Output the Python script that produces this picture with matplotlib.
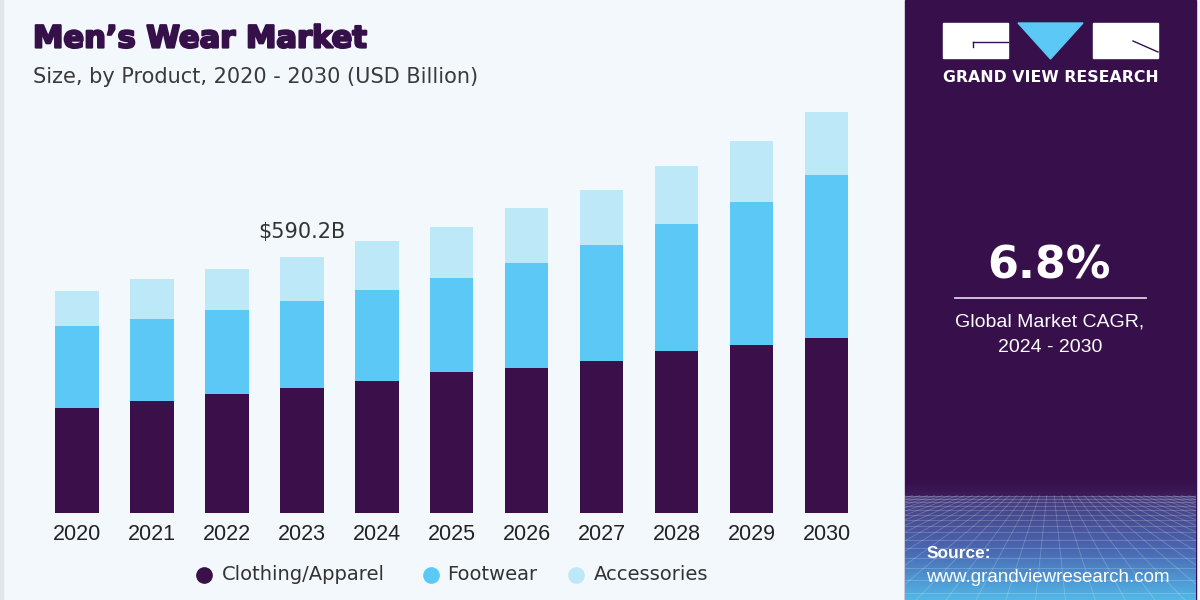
import numpy as np
import matplotlib
matplotlib.use("Agg")
import matplotlib.pyplot as plt
import matplotlib.patheffects as pe
from matplotlib.patches import Rectangle, Polygon

# data (USD Billion)
years = ["2020", "2021", "2022", "2023", "2024", "2025", "2026", "2027", "2028", "2029", "2030"]
clothing = [241.7, 257.9, 273.4, 288.6, 303.4, 324.2, 334.9, 351.1, 373.5, 386.7, 402.9]
footwear = [190.3, 190.3, 195.7, 201.2, 211.2, 219.2, 242.1, 268.3, 293.7, 331.4, 377.0]
accessories = [80.9, 91.1, 94.8, 100.4, 113.3, 117.5, 127.9, 126.5, 134.8, 141.1, 147.1]
segments = ["Clothing/Apparel", "Footwear", "Accessories"]
colors = ["#3a0f4a", "#5bc8f5", "#bde8f8"]
callout_idx = 3
callout_text = "$590.2B"

W, H = 1200, 600
BG = "#f3f8fc"
PANEL = "#370f4b"


def fx(x):
    return x / W


def fy(y):
    return 1 - y / H


fig = plt.figure(figsize=(12, 6), dpi=100)
fig.patch.set_facecolor(BG)

# thin light border on the left
fig.add_artist(Rectangle((0, 0), fx(3), 1, transform=fig.transFigure, color="#e2e6ea", zorder=0))

# right panel
fig.add_artist(Rectangle((fx(905), 0), fx(291), 1, transform=fig.transFigure,
                         color=PANEL, zorder=0))
# gradient at bottom of panel
gax = fig.add_axes([fx(905), 0, fx(291), (600 - 480) / H])
c0 = np.array(matplotlib.colors.to_rgb(PANEL))
c05 = np.array(matplotlib.colors.to_rgb("#463a7c"))
c1 = np.array(matplotlib.colors.to_rgb("#4a6ab4"))
c2 = np.array(matplotlib.colors.to_rgb("#52b8e8"))
n = 240
img = np.zeros((n, 1, 3))
for i in range(n):
    t = i / (n - 1)
    if t < 0.13:
        s = t / 0.13
        img[i, 0] = c0 * (1 - 0.3 * s) + c05 * 0.3 * s
    elif t < 0.6:
        s = (t - 0.13) / 0.47
        img[i, 0] = c05 * (1 - s) + c1 * s
    else:
        s = (t - 0.6) / 0.4
        img[i, 0] = c1 * (1 - s) + c2 * s
gax.imshow(img, aspect="auto", extent=[0, 1, 1, 0])
# faint perspective grid
for k in np.linspace(-1.5, 2.5, 40):
    gax.plot([0.5 + (k - 0.5) * 0.25, k], [0.13, 1.0], color="white", lw=0.6, alpha=0.22)
yy = 0.13
step = 0.025
while yy < 1.0:
    gax.plot([0, 1], [yy, yy], color="white", lw=0.6, alpha=0.22)
    yy += step
    step *= 1.12
gax.set_xlim(0, 1)
gax.set_ylim(1, 0)
gax.axis("off")

# logo
fig.add_artist(Rectangle((fx(943), fy(58)), fx(65), 35 / H, transform=fig.transFigure, color="white"))
fig.add_artist(Rectangle((fx(1093), fy(58)), fx(65), 35 / H, transform=fig.transFigure, color="white"))
fig.add_artist(Polygon([(fx(1018), fy(23)), (fx(1083), fy(23)), (fx(1050.5), fy(59))],
                       closed=True, transform=fig.transFigure, color="#5bc8f5"))
fig.add_artist(plt.Line2D([fx(973), fx(1008)], [fy(42), fy(42)], transform=fig.transFigure,
                          color=PANEL, lw=1))
fig.add_artist(plt.Line2D([fx(973), fx(973)], [fy(42), fy(47)], transform=fig.transFigure,
                          color=PANEL, lw=1))
fig.add_artist(plt.Line2D([fx(1133), fx(1158)], [fy(41), fy(52)], transform=fig.transFigure,
                          color=PANEL, lw=1))
fig.text(fx(1050.5), fy(78), "GRAND VIEW RESEARCH", color="white", fontsize=11.3,
         fontweight="bold", ha="center", va="center", family="DejaVu Sans")

# CAGR block
fig.text(fx(1049), fy(266), "6.8%", color="white", fontsize=32, fontweight="bold",
         ha="center", va="center", family="DejaVu Sans")
fig.add_artist(plt.Line2D([fx(955), fx(1146)], [fy(298), fy(298)], transform=fig.transFigure,
                          color="#d8d0e0", lw=1.3))
fig.text(fx(1050), fy(322), "Global Market CAGR,", color="white", fontsize=14,
         ha="center", va="center", family="Liberation Sans")
fig.text(fx(1050), fy(347), "2024 - 2030", color="white", fontsize=14,
         ha="center", va="center", family="Liberation Sans")

# source
fig.text(fx(927), fy(554), "Source:", color="white", fontsize=12.5, fontweight="bold",
         ha="left", va="center", family="Liberation Sans")
fig.text(fx(926), fy(578), "www.grandviewresearch.com", color="white", fontsize=13.5,
         ha="left", va="center", family="Liberation Sans")

# titles
fig.text(fx(33), fy(39), "Men\u2019s Wear Market", color="#361048", fontsize=22,
         fontweight="bold", ha="left", va="center", family="DejaVu Sans",
         path_effects=[pe.withStroke(linewidth=1.6, foreground="#361048")])
fig.text(fx(33), fy(77), "Size, by Product, 2020 - 2030 (USD Billion)", color="#3a3a3a",
         fontsize=15, ha="left", va="center", family="DejaVu Sans")

# bar chart
scale = 590.2 / (512.5 - 257.3)
ax = fig.add_axes([fx(39.5), (H - 512.5) / H, fx(864 - 39.5), (512.5 - 100) / H])
ax.set_facecolor("none")
x = np.arange(len(years))
bottom = np.zeros(len(years))
for vals, lab, col in zip([clothing, footwear, accessories], segments, colors):
    ax.bar(x, vals, width=0.58, bottom=bottom, color=col, label=lab, edgecolor="none")
    bottom += np.array(vals)

ax.set_xlim(-0.5, len(years) - 0.5)
ax.set_ylim(0, (512.5 - 100) * scale)
ax.set_xticks(x)
ax.set_xticklabels(years, fontsize=15.5, color="#222222", family="Liberation Sans")
ax.tick_params(axis="x", length=0, pad=8)
ax.set_yticks([])
for s in ax.spines.values():
    s.set_visible(False)

ax.annotate(callout_text, (x[callout_idx], bottom[callout_idx]), xytext=(0, 11),
            textcoords="offset points", ha="center", va="bottom", fontsize=15,
            color="#333333", family="DejaVu Sans")

# legend
dot_x = [204, 431, 576]
text_x = [222, 447, 594]
for dx, tx, lab, col in zip(dot_x, text_x, segments, colors):
    fig.add_artist(plt.Line2D([fx(dx)], [fy(575)], marker="o", markersize=11,
                              color=col, transform=fig.transFigure, linestyle="none"))
    fig.text(fx(tx), fy(575), lab, fontsize=14, color="#333333", ha="left",
             va="center", family="DejaVu Sans")

fig.savefig("out.png", dpi=100, facecolor=BG)
